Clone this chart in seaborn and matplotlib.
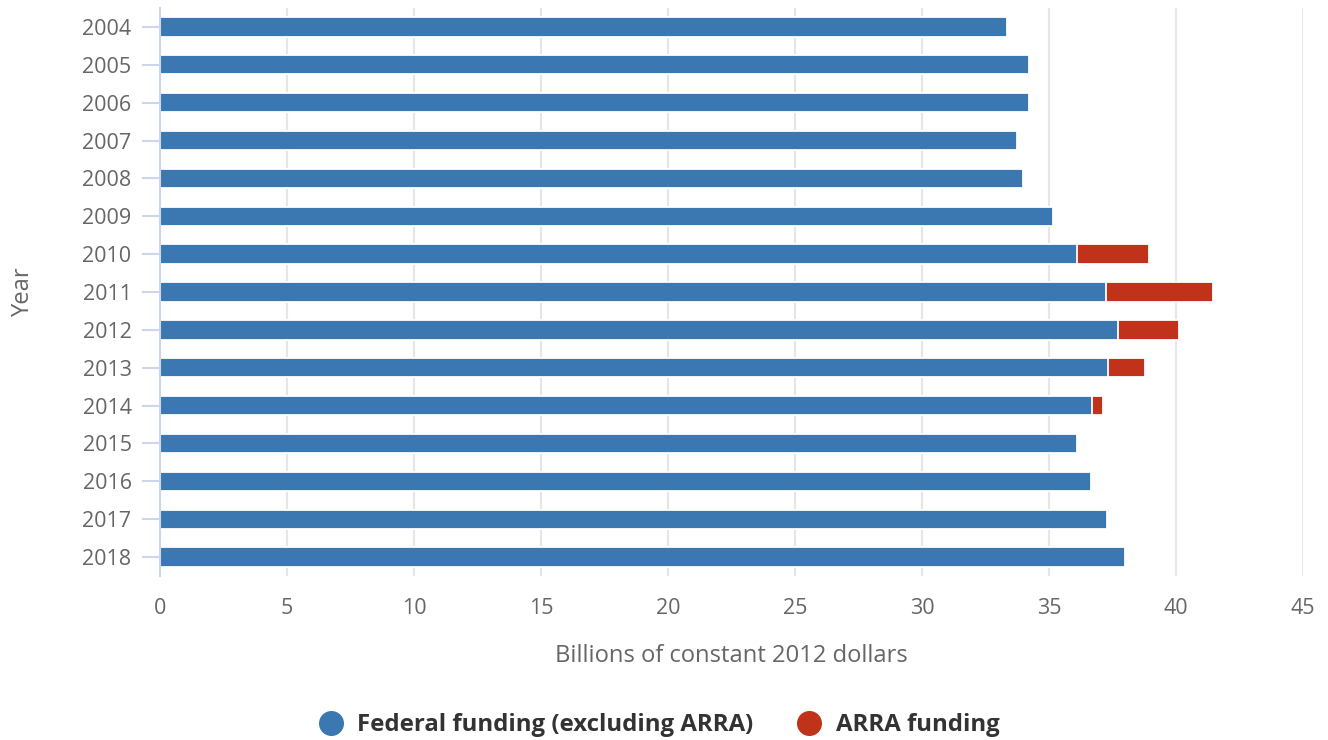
import matplotlib
matplotlib.use("Agg")
import matplotlib.pyplot as plt
import seaborn as sns
import pandas as pd
from matplotlib.lines import Line2D

years = ["2004", "2005", "2006", "2007", "2008", "2009", "2010", "2011",
         "2012", "2013", "2014", "2015", "2016", "2017", "2018"]
federal = [33.35, 34.21, 34.21, 33.74, 33.98, 35.16, 36.10, 37.24,
           37.72, 37.32, 36.69, 36.10, 36.65, 37.28, 37.99]
arra = [0, 0, 0, 0, 0, 0, 2.84, 4.21, 2.40, 1.46, 0.43, 0, 0, 0, 0]
x_ticks = [0, 5, 10, 15, 20, 25, 30, 35, 40, 45]
series_names = ["Federal funding (excluding ARRA)", "ARRA funding"]

blue = "#3b78b1"
red = "#c0321a"

df = pd.DataFrame({"Year": years, "Federal": federal, "ARRA": arra})
df["Total"] = df["Federal"] + df["ARRA"]

sns.set_theme(style="white")
plt.rcParams["font.family"] = ["Open Sans", "DejaVu Sans"]

fig = plt.figure(figsize=(13.28, 7.40), dpi=100)
ax = fig.add_axes([160 / 1328, 1 - 576 / 740, 1143 / 1328, 568 / 740])

sns.barplot(data=df, x="Total", y="Year", orient="h", color=red, saturation=1,
            width=0.51, edgecolor="white", linewidth=1.3, ax=ax, zorder=3)
sns.barplot(data=df, x="Federal", y="Year", orient="h", color=blue, saturation=1,
            width=0.51, edgecolor="white", linewidth=1.3, ax=ax, zorder=4)

ax.set_xlim(0, 45)
ax.set_ylim(len(years) - 0.5, -0.5)
ax.set_xticks(x_ticks)
ax.set_xticklabels([str(t) for t in x_ticks])
ax.xaxis.grid(True, color="#e6e6e6", linewidth=1.5, zorder=0)
ax.yaxis.grid(False)
ax.set_axisbelow(True)

for side in ["top", "right", "bottom"]:
    ax.spines[side].set_visible(False)
ax.spines["left"].set_color("#ccd6eb")
ax.spines["left"].set_linewidth(1.5)
ax.spines["left"].set_zorder(5)

ax.tick_params(axis="y", length=13, width=1.5, color="#ccd6eb", pad=7.5,
               labelsize=15.5, labelcolor="#666666", left=True)
ax.tick_params(axis="x", length=0, pad=16, labelsize=15.5, labelcolor="#666666")

ax.set_xlabel("Billions of constant 2012 dollars", fontsize=17.1, color="#666666",
              labelpad=18)
ax.set_ylabel("Year", fontsize=17.1, color="#666666", labelpad=0)
ax.yaxis.set_label_coords(-125 / 1143, 0.5)

handles = [
    Line2D([0], [0], marker="o", linestyle="none", markersize=17,
           markerfacecolor=blue, markeredgecolor=blue),
    Line2D([0], [0], marker="o", linestyle="none", markersize=17,
           markerfacecolor=red, markeredgecolor=red),
]
leg = fig.legend(handles, series_names, loc="center", bbox_to_anchor=(658 / 1328, 1 - 725 / 740),
                 ncol=2, frameon=False, handlelength=1.2, handletextpad=0.5,
                 columnspacing=1.73, prop={"weight": "bold", "size": 17.3})
for t in leg.get_texts():
    t.set_color("#333333")

fig.savefig("out.png", dpi=100)
